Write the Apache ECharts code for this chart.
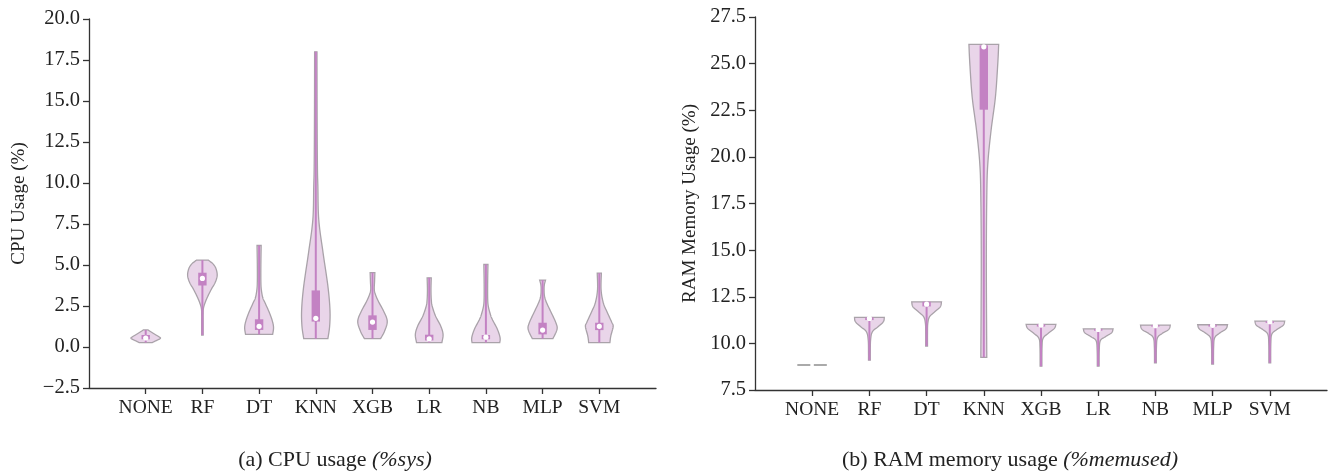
<!DOCTYPE html>
<html>
<head>
<meta charset="utf-8">
<script src="https://cdn.jsdelivr.net/npm/echarts@6/dist/echarts.min.js"></script>
<style>
  html, body { margin: 0; padding: 0; background: #fff; }
  #main { width: 1335px; height: 473px; }
</style>
</head>
<body>
<div id="main"></div>
<script>
var categories = ['NONE', 'RF', 'DT', 'KNN', 'XGB', 'LR', 'NB', 'MLP', 'SVM'];

// CPU (%sys): box stats per model
var cpuMin    = [0.27, 0.73, 0.77, 0.51, 0.51, 0.27, 0.27, 0.51, 0.27];
var cpuQ1     = [0.47, 3.75, 1.04, 1.55, 1.04, 0.40, 0.47, 0.77, 1.03];
var cpuMedian = [0.55, 4.18, 1.26, 1.75, 1.52, 0.50, 0.60, 1.03, 1.26];
var cpuQ3     = [0.73, 4.53, 1.69, 3.45, 1.93, 0.75, 0.73, 1.48, 1.48];
var cpuMax    = [1.04, 5.30, 6.19, 18.0, 4.53, 4.22, 5.03, 4.08, 4.50];
// CPU density profiles: [value, relative density], top to bottom
var cpuDensity = [
    [[1.04,0.16],[0.9,0.4],[0.75,0.67],[0.6,0.94],[0.53,1.0],[0.45,0.86],[0.35,0.62],[0.27,0.45]],
    [[5.3,0.4],[5.04,0.75],[4.73,0.94],[4.33,1.0],[3.9,0.85],[3.51,0.6],[2.9,0.27],[2.4,0.08],[2.0,0.05],[1.5,0.05],[0.73,0.05]],
    [[6.19,0.14],[5.0,0.12],[4.0,0.12],[3.5,0.15],[3.0,0.25],[2.7,0.4],[2.09,0.7],[1.58,0.9],[1.18,0.98],[0.77,0.92]],
    [[18.0,0.08],[14.0,0.09],[11.0,0.11],[9.8,0.14],[7.77,0.2],[5.76,0.49],[3.71,0.82],[2.29,0.96],[1.28,0.94],[0.51,0.82]],
    [[4.53,0.16],[4.0,0.14],[3.51,0.12],[3.2,0.2],[2.8,0.39],[2.19,0.75],[1.58,1.0],[0.97,0.82],[0.51,0.55]],
    [[4.22,0.14],[3.5,0.12],[2.9,0.14],[2.5,0.2],[1.89,0.43],[1.28,0.78],[0.77,0.94],[0.27,0.86]],
    [[5.03,0.14],[4.0,0.12],[3.0,0.12],[2.5,0.16],[2.0,0.3],[1.69,0.43],[1.08,0.78],[0.57,0.96],[0.27,0.94]],
    [[4.08,0.2],[3.8,0.12],[3.51,0.1],[3.1,0.13],[2.7,0.27],[2.09,0.59],[1.48,0.9],[1.08,0.98],[0.51,0.7]],
    [[4.5,0.14],[3.5,0.12],[2.7,0.27],[2.09,0.55],[1.5,0.85],[1.24,0.94],[0.67,0.78],[0.27,0.72]]
];

// RAM (%memused)
var ramMin    = [8.84, 9.10, 9.86, 9.25, 8.78, 8.78, 8.96, 8.89, 8.96];
var ramQ1     = [8.84, 11.25, 11.98, 22.53, 10.90, 10.68, 10.90, 10.90, 11.10];
var ramMedian = [8.84, 11.34, 12.10, 25.90, 10.98, 10.75, 10.95, 10.97, 11.16];
var ramQ3     = [8.84, 11.39, 12.23, 25.98, 11.02, 10.78, 10.98, 11.00, 11.19];
var ramMax    = [8.84, 11.39, 12.23, 26.03, 11.02, 10.78, 10.98, 11.00, 11.19];
var ramDensity = [
    [],
    [[11.39,1.0],[11.16,0.94],[10.89,0.58],[10.62,0.2],[10.18,0.08],[9.5,0.06],[9.1,0.06]],
    [[12.23,1.0],[11.96,0.92],[11.69,0.55],[11.43,0.2],[11.07,0.08],[10.5,0.06],[9.86,0.06]],
    [[26.03,1.0],[25.0,0.94],[23.2,0.78],[21.43,0.49],[19.64,0.27],[17.85,0.2],[14.28,0.17],[9.25,0.2]],
    [[11.02,1.0],[10.8,0.9],[10.54,0.49],[10.27,0.14],[9.8,0.07],[8.78,0.06]],
    [[10.78,1.0],[10.57,0.9],[10.35,0.47],[10.14,0.14],[9.6,0.07],[8.78,0.06]],
    [[10.98,1.0],[10.75,0.9],[10.54,0.47],[10.3,0.14],[9.8,0.07],[8.96,0.06]],
    [[11.0,1.0],[10.78,0.9],[10.55,0.47],[10.3,0.14],[9.8,0.07],[8.89,0.06]],
    [[11.19,1.0],[10.97,0.9],[10.74,0.47],[10.5,0.14],[10.0,0.07],[8.96,0.06]]
];

var FONT = 'Liberation Serif';
var HALF = 0.26;           // max half width of a violin, in category units
var VIOLIN_FILL = '#e9d5e9';
var VIOLIN_EDGE = '#a9a2a9';
var BOX = '#c382c3';

// catmull-rom through the profile points, only for drawing
function smooth(prof) {
    var out = [];
    for (var k = 0; k < prof.length - 1; k++) {
        var p0 = prof[k - 1] || prof[k], p1 = prof[k], p2 = prof[k + 1], p3 = prof[k + 2] || prof[k + 1];
        for (var s = 0; s < 10; s++) {
            var t = s / 10, t2 = t * t, t3 = t2 * t;
            var pt = [0, 1].map(function (j) {
                return 0.5 * ((2 * p1[j]) + (-p0[j] + p2[j]) * t +
                    (2 * p0[j] - 5 * p1[j] + 4 * p2[j] - p3[j]) * t2 +
                    (-p0[j] + 3 * p1[j] - 3 * p2[j] + p3[j]) * t3);
            });
            pt[1] = Math.max(pt[1], 0.03);
            out.push(pt);
        }
    }
    out.push(prof[prof.length - 1]);
    return out;
}

function violinSeries(density, mins, q1s, meds, q3s, maxs, axis) {
    return {
        type: 'custom',
        xAxisIndex: axis,
        yAxisIndex: axis,
        clip: false,
        data: categories.map(function (c, i) { return [i, meds[i]]; }),
        renderItem: function (params, api) {
            var i = api.value(0);
            var prof = density[i];
            var children = [];
            if (prof.length === 0) {
                var a = api.coord([i - HALF, meds[i]]), b = api.coord([i + HALF, meds[i]]);
                children.push({ type: 'line', shape: { x1: a[0], y1: a[1], x2: b[0], y2: b[1] },
                    style: { stroke: '#aaaaaa', lineWidth: 2, lineDash: [13, 3.5] } });
                return { type: 'group', children: children };
            }
            var dense = smooth(prof);
            var pts = [];
            dense.forEach(function (p) { pts.push(api.coord([i + p[1] * HALF, p[0]])); });
            for (var k = dense.length - 1; k >= 0; k--) {
                pts.push(api.coord([i - dense[k][1] * HALF, dense[k][0]]));
            }
            children.push({ type: 'polygon', shape: { points: pts },
                style: { fill: VIOLIN_FILL, stroke: VIOLIN_EDGE, lineWidth: 1.3 } });
            var lo = api.coord([i, mins[i]]), hi = api.coord([i, maxs[i]]);
            children.push({ type: 'line', shape: { x1: lo[0], y1: lo[1], x2: hi[0], y2: hi[1] },
                style: { stroke: BOX, lineWidth: 2 } });
            var top = api.coord([i, q3s[i]]), bot = api.coord([i, q1s[i]]);
            children.push({ type: 'rect', shape: { x: top[0] - 4.2, y: top[1], width: 8.4, height: Math.max(bot[1] - top[1], 1) },
                style: { fill: BOX } });
            var m = api.coord([i, meds[i]]);
            children.push({ type: 'circle', shape: { cx: m[0], cy: m[1], r: 2.6 }, style: { fill: '#ffffff' } });
            return { type: 'group', children: children };
        }
    };
}

function xAxisFor(grid) {
    return {
        type: 'value', gridIndex: grid, min: -1, max: 9, interval: 1,
        splitLine: { show: false },
        axisLine: { onZero: false, lineStyle: { color: '#333', width: 1.3 } },
        axisTick: { length: 6, lineStyle: { color: '#333', width: 1.3 }, customValues: [0, 1, 2, 3, 4, 5, 6, 7, 8] },
        axisLabel: { customValues: [0, 1, 2, 3, 4, 5, 6, 7, 8], margin: 10, color: '#222', fontFamily: FONT, fontSize: 19.5,
            formatter: function (v) { return categories[v] || ''; } }
    };
}

function yAxisFor(grid, min, max, name, gap) {
    return {
        type: 'value', gridIndex: grid, min: min, max: max, interval: 2.5,
        name: name, nameLocation: 'middle', nameGap: gap,
        nameTextStyle: { color: '#222', fontFamily: FONT, fontSize: 19 },
        splitLine: { show: false },
        axisLine: { show: true, onZero: false, lineStyle: { color: '#333', width: 1.3 } },
        axisTick: { show: true, length: 6, lineStyle: { color: '#333', width: 1.3 } },
        axisLabel: { margin: 9, color: '#222', fontFamily: FONT, fontSize: 20.5,
            formatter: function (v) { return (v < 0 ? '\u2212' : '') + Math.abs(v).toFixed(1); } }
    };
}

var captionStyle = {
    a: { fontFamily: FONT, fontSize: 22, color: '#222', fontWeight: 'normal' },
    b: { fontFamily: FONT, fontSize: 22, color: '#222', fontWeight: 'normal', fontStyle: 'italic' }
};

var chart = echarts.init(document.getElementById('main'));
chart.setOption({
    animation: false,
    backgroundColor: '#fff',
    title: [
        { text: '{a|(a) CPU usage }{b|(%sys)}', left: 330, top: 444, textAlign: 'center',
          textStyle: { fontWeight: 'normal', rich: captionStyle } },
        { text: '{a|(b) RAM memory usage }{b|(%memused)}', left: 1005, top: 444, textAlign: 'center',
          textStyle: { fontWeight: 'normal', rich: captionStyle } }
    ],
    grid: [
        { left: 89, top: 19, width: 567, height: 369 },
        { left: 755, top: 17, width: 572, height: 373 }
    ],
    xAxis: [xAxisFor(0), xAxisFor(1)],
    yAxis: [
        yAxisFor(0, -2.5, 20, 'CPU Usage (%)', 60),
        yAxisFor(1, 7.5, 27.5, 'RAM Memory Usage (%)', 55)
    ],
    series: [
        violinSeries(cpuDensity, cpuMin, cpuQ1, cpuMedian, cpuQ3, cpuMax, 0),
        violinSeries(ramDensity, ramMin, ramQ1, ramMedian, ramQ3, ramMax, 1)
    ]
});
</script>
</body>
</html>
